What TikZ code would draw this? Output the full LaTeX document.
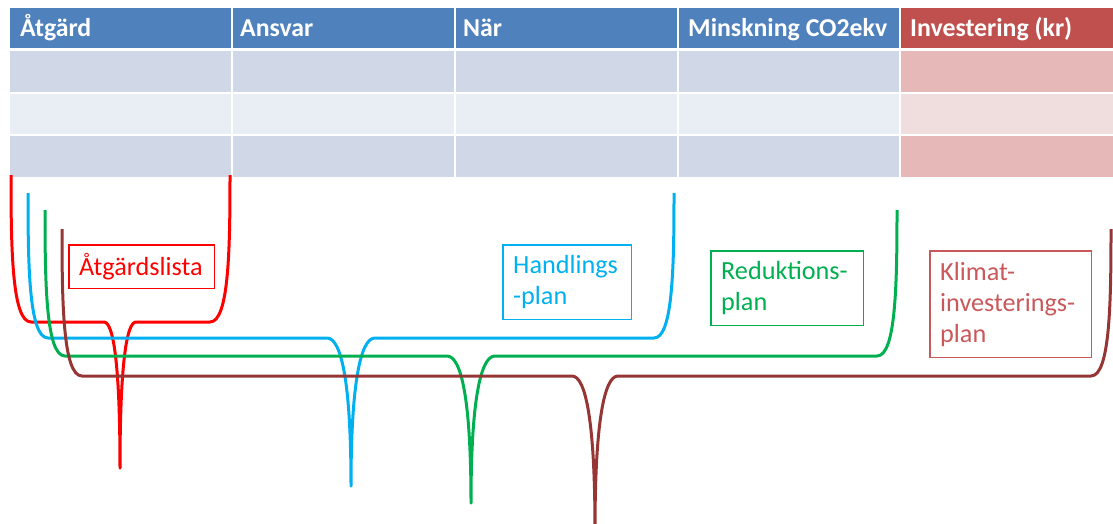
\documentclass[tikz,border=0pt]{standalone}
\usepackage{fontspec}
\setmainfont{Carlito}
\definecolor{hdrblue}{HTML}{4F81BD}
\definecolor{hdrred}{HTML}{C0504D}
\definecolor{rowblueA}{HTML}{D0D8E8}
\definecolor{rowblueB}{HTML}{E9EDF4}
\definecolor{rowredA}{HTML}{E6B9B8}
\definecolor{rowredB}{HTML}{F0DEDE}
\definecolor{bred}{HTML}{FF0000}
\definecolor{bblue}{HTML}{00B0F0}
\definecolor{bgreen}{HTML}{00B050}
\definecolor{bbrown}{HTML}{963634}
\definecolor{kred}{HTML}{C9585A}
\newcommand{\mybracket}[9]{%
  \draw[bracestyle,#1] ({#2},{#3}) .. controls ({#2},{0.5*(#3+#4)}) and ({#2+1},{#4}) .. ({#2+20},{#4})
    -- ({#5-#6},{#4}) .. controls ({#5-0.4*#6},{#4}) and ({#5},{#4+0.3*(#7-#4)}) .. ({#5},{#7})
    .. controls ({#5},{#4+0.3*(#7-#4)}) and ({#5+0.4*#6},{#4}) .. ({#5+#6},{#4})
    -- ({#8-20},{#4}) .. controls ({#8-1},{#4}) and ({#8},{0.5*(#9+#4)}) .. ({#8},{#9});}
\begin{document}
\begin{tikzpicture}[x=1pt,y=-1pt,
  hdr/.style={anchor=base west, inner sep=0pt, font=\fontsize{25.8}{30}\selectfont\bfseries, text=white},
  lbl/.style={anchor=north west, inner xsep=10pt, inner ysep=0pt, align=left,
              font=\fontsize{26.2}{31}\selectfont},
  boxline/.style={line width=1.4pt},
  bracestyle/.style={line width=3pt, line join=round}]
\useasboundingbox (0,0) rectangle (1113,523);
\clip (0,0) rectangle (1113,523);
% table
\fill[hdrblue] (10,8) rectangle (900,49);
\fill[hdrred] (900,8) rectangle (1122,49);
\fill[rowblueA] (10,49) rectangle (900,92);
\fill[rowredA] (900,49) rectangle (1122,92);
\fill[rowblueB] (10,92) rectangle (900,134);
\fill[rowredB] (900,92) rectangle (1122,134);
\fill[rowblueA] (10,134) rectangle (900,177);
\fill[rowredA] (900,134) rectangle (1122,177);
\foreach \xx in {232,455,678,900} \draw[white, line width=2pt] (\xx,8) -- (\xx,177);
\draw[white, line width=3pt] (10,49.5) -- (1122,49.5);
\foreach \yy in {92.5,134.5} \draw[white, line width=2pt] (10,\yy) -- (1122,\yy);
\node[hdr] (h1) at (20,36) {Åtgärd};
\node[hdr] (h2) at (240,36) {Ansvar};
\node[hdr] (h3) at (463,36) {När};
\node[hdr] (h4) at (688,36) {Minskning CO2ekv};
\node[hdr] (h5) at (910,36) {Investering (kr)};
% brackets
\mybracket{bred}{11}{175}{322}{120}{16}{468}{230}{175}
\mybracket{bblue}{28}{193}{338}{351}{24}{486}{674}{193}
\mybracket{bgreen}{45}{210}{356}{471}{24}{503}{897}{210}
\mybracket{bbrown}{62}{229}{376}{595}{23}{530}{1111}{229}
% labels
\node[lbl, text=bred, text width=125pt, minimum height=43pt] (l1) at (69,245) {Åtgärdslista};
\node[lbl, text=bblue, text width=108pt, minimum height=74pt] (l2) at (503,245) {Handlings\\-plan};
\node[lbl, text=bgreen, text width=132pt, minimum height=74pt] (l3) at (711,251) {Reduktions-\\plan};
\node[lbl, text=kred, text width=141pt, minimum height=106pt] (l4) at (930,251) {Klimat-\\investerings-\\plan};
\draw[boxline, bred] (l1.north west) rectangle (l1.south east);
\draw[boxline, bblue] (l2.north west) rectangle (l2.south east);
\draw[boxline, bgreen] (l3.north west) rectangle (l3.south east);
\draw[boxline, kred] (l4.north west) rectangle (l4.south east);
\end{tikzpicture}
\end{document}
